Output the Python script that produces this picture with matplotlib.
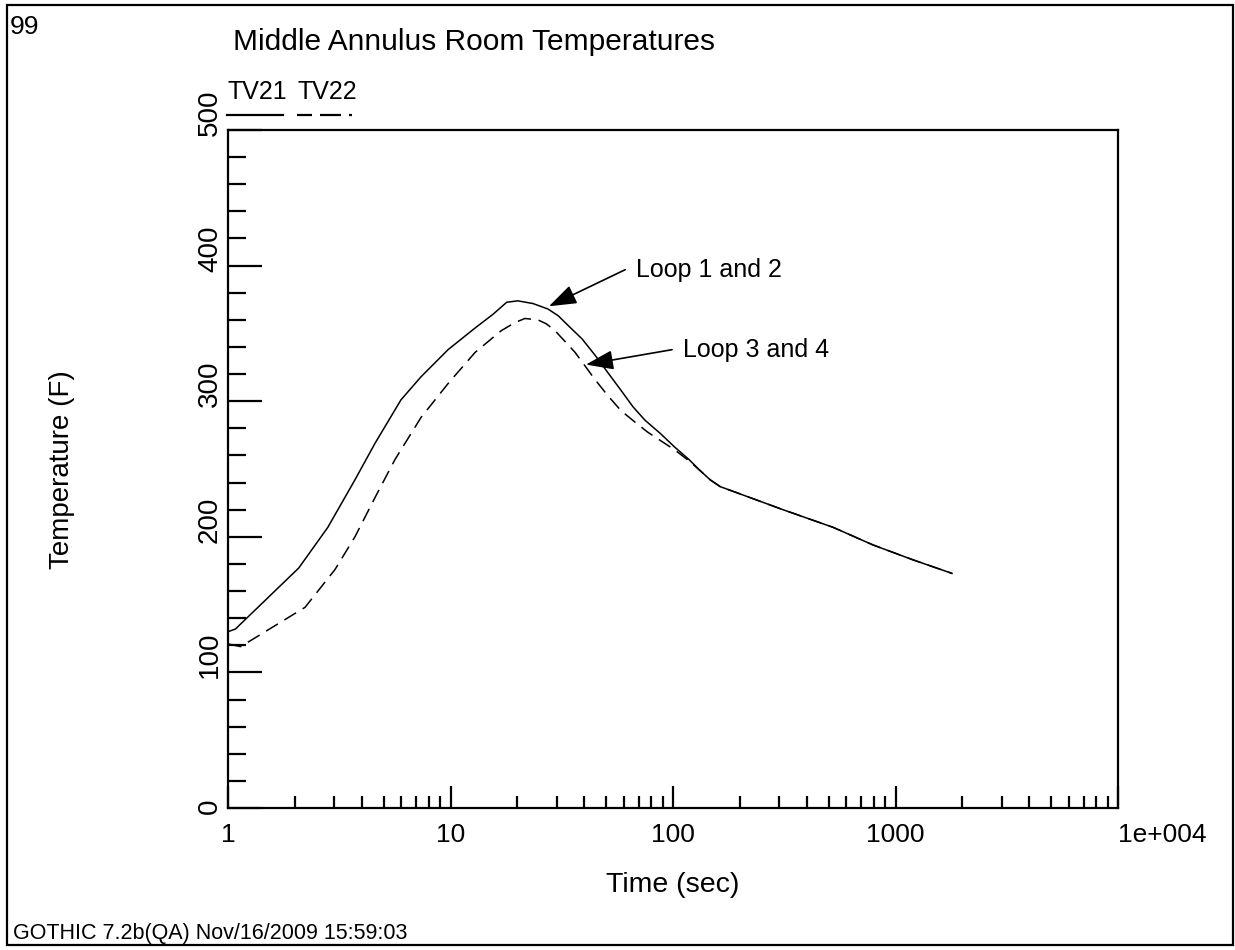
import numpy as np
import matplotlib
matplotlib.use("Agg")
import matplotlib.pyplot as plt
from matplotlib.lines import Line2D
from matplotlib.patches import Rectangle
import matplotlib.transforms as mtransforms

# ---- data ----
t_tv21 = [1.0, 1.08, 2.08, 2.81, 3.72, 4.58, 5.99, 7.37, 9.75, 12.9, 15.5, 17.9, 20.1,
          23.5, 27.4, 30.5, 33.7, 39.0, 44.6, 51.0, 58.4, 66.0, 74.8, 88.0, 102,
          118, 132, 147, 163, 312, 524, 792, 1199, 1795]
T_tv21 = [130, 132, 177, 207, 242, 269, 301, 318, 338, 354, 364, 373, 374,
          372, 368, 363, 356, 346, 334, 321, 308, 296, 286, 276, 266,
          257, 249, 242, 237, 220, 207, 194, 183, 173]

t_tv22 = [1.0, 1.14, 2.22, 3.03, 3.72, 4.58, 5.63, 7.37, 9.75, 12.9, 16.9, 19.5, 21.6,
          24.7, 27.0, 29.5, 36.3, 44.6, 51.0, 58.4, 67.0, 77.2, 102, 118, 132, 147, 163,
          312, 524, 792, 1199, 1795]
T_tv22 = [121, 119, 148, 176, 200, 229, 257, 288, 313, 336, 352, 358, 361,
          360, 357, 352, 336, 316, 304, 293, 285, 277, 264, 256, 249, 242, 237,
          220, 207, 194, 183, 173]

series_names = ["TV21", "TV22"]
y_ticks = [0, 100, 200, 300, 400, 500]
y_tick_labels = ["0", "100", "200", "300", "400", "500"]
x_ticks = [1, 10, 100, 1000, 10000]
x_tick_labels = ["1", "10", "100", "1000", "1e+004"]

title = "Middle Annulus Room Temperatures"
xlabel = "Time (sec)"
ylabel = "Temperature (F)"
page_no = "99"
footer = "GOTHIC 7.2b(QA) Nov/16/2009 15:59:03"
# (label, arrow tip (t, T), arrow tail (t, T))
ann1 = ("Loop 1 and 2", (27.7, 370), (61.0, 397))
ann2 = ("Loop 3 and 4", (40.6, 327), (99.0, 338))

# ---- figure ----
W, H, DPI = 1235, 950, 100
plt.rcParams['font.family'] = ['Liberation Sans', 'DejaVu Sans']
fig = plt.figure(figsize=(W / DPI, H / DPI), dpi=DPI)

def fx(px):
    return px / W

def fy(py):
    return 1 - py / H

ax = fig.add_axes([fx(228), fy(808), fx(1118) - fx(228), fy(130) - fy(808)])
ax.set_xscale('log')
ax.set_xlim(1, 1e4)
ax.set_ylim(0, 500)

ax.plot(t_tv21, T_tv21, color='black', lw=1.1, solid_joinstyle='round')
ax.plot(t_tv22, T_tv22, color='black', lw=1.1, ls=(0, (9, 5)))

for s in ax.spines.values():
    s.set_linewidth(1.6)

# ticks: inside, left and bottom only
ax.set_yticks(y_ticks)
ax.set_yticks(np.arange(0, 501, 20), minor=True)
ax.set_xticks(x_ticks)
ax.xaxis.set_minor_locator(matplotlib.ticker.LogLocator(base=10, subs=np.arange(2, 10)))
ax.xaxis.set_minor_formatter(matplotlib.ticker.NullFormatter())
ax.tick_params(axis='y', which='major', direction='in', length=34 * 0.72, width=1.6,
               left=True, right=False, labelleft=False)
ax.tick_params(axis='y', which='minor', direction='in', length=18 * 0.72, width=1.6,
               left=True, right=False)
ax.tick_params(axis='x', which='major', direction='in', length=22 * 0.72, width=1.6,
               bottom=True, top=False, labelsize=19, pad=11)
ax.tick_params(axis='x', which='minor', direction='in', length=12 * 0.72, width=1.6,
               bottom=True, top=False)
ax.set_xticklabels(x_tick_labels)
ax.get_xticklabels()[-1].set_ha('left')

# rotated y tick labels, text starting slightly below the tick
ytrans = mtransforms.offset_copy(ax.get_yaxis_transform(), fig=fig, x=-5, y=-6, units='dots')
for v, lab in zip(y_ticks, y_tick_labels):
    ax.text(0, v, lab, transform=ytrans, rotation=90, ha='right', va='bottom', fontsize=20)

ax.set_xlabel(xlabel, fontsize=20.5, labelpad=18)
fig.text(fx(62), fy(470), ylabel, rotation=90, ha='center', va='center', fontsize=20)

# annotations
for txt, tip, tail in (ann1, ann2):
    ax.annotate('', xy=tip, xytext=tail,
                arrowprops=dict(arrowstyle='-|>,head_length=0.85,head_width=0.3',
                                color='black', lw=1.2, mutation_scale=20,
                                shrinkA=0, shrinkB=0))
    ax.annotate(txt, xy=tail, xytext=(8, 0), textcoords='offset points',
                ha='left', va='center', fontsize=18)

# header / footer texts
fig.text(fx(233), fy(42), title, ha='left', va='center', fontsize=21.5)
fig.text(fx(10), fy(27), page_no, ha='left', va='center', fontsize=19)
fig.text(fx(13), fy(934), footer, ha='left', va='center', fontsize=15.5)

# legend: names above line samples
fig.text(fx(227), fy(92), series_names[0], ha='left', va='center', fontsize=18)
fig.text(fx(297), fy(92), series_names[1], ha='left', va='center', fontsize=18)
fig.add_artist(Line2D([fx(227), fx(283)], [fy(115), fy(115)], color='black', lw=1.6))
lw_leg = 1.6
fig.add_artist(Line2D([fx(297), fx(355)], [fy(115), fy(115)], color='black', lw=lw_leg,
                      ls=(0, tuple(v * 0.72 / lw_leg for v in (15, 8, 21, 8, 3, 10)))))

# page frame
fig.add_artist(Rectangle((fx(7), fy(945)), fx(1233) - fx(7), fy(5) - fy(945),
                         fill=False, lw=1.6, ec='black'))

fig.savefig('out.png', dpi=DPI)
